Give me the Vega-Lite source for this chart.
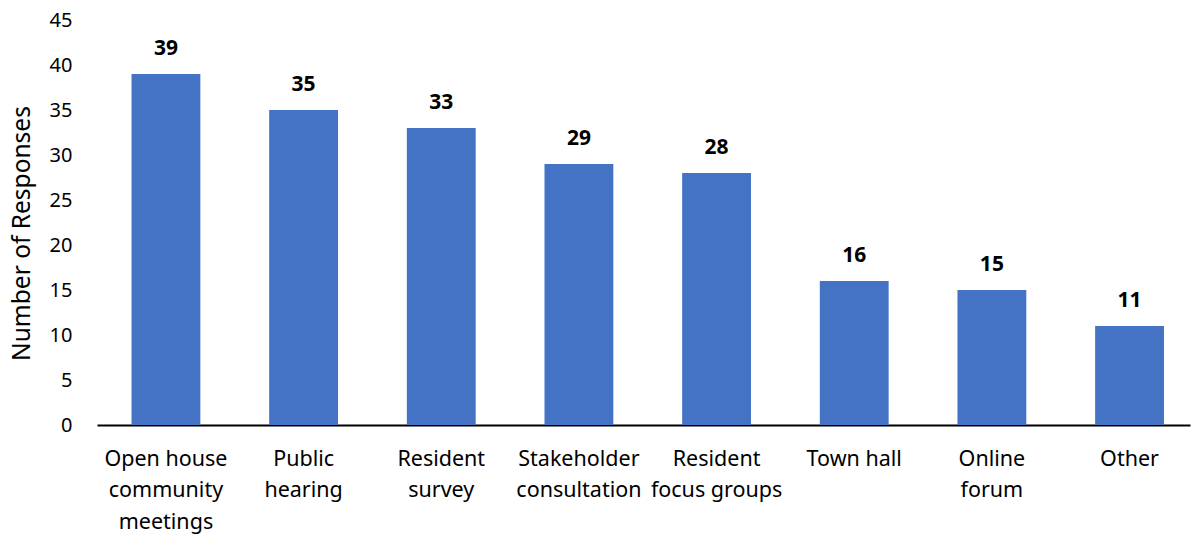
{
  "$schema": "https://vega.github.io/schema/vega-lite/v6.json",
  "width": 1093,
  "height": 405,
  "autosize": "none",
  "padding": {"left": 97, "top": 20, "right": 1, "bottom": 110},
  "background": "white",
  "config": {"view": {"stroke": null}, "font": "Noto Sans"},
  "data": {"values": [
    {"category": "Open house community meetings", "responses": 39},
    {"category": "Public hearing", "responses": 35},
    {"category": "Resident survey", "responses": 33},
    {"category": "Stakeholder consultation", "responses": 29},
    {"category": "Resident focus groups", "responses": 28},
    {"category": "Town hall", "responses": 16},
    {"category": "Online forum", "responses": 15},
    {"category": "Other", "responses": 11}
  ]},
  "encoding": {
    "x": {"field": "category", "type": "nominal", "sort": null,
      "scale": {"paddingInner": 0.5, "paddingOuter": 0.22, "align": 0.57},
      "axis": {"title": null, "labelAngle": 0, "ticks": false, "domainColor": "#000000", "domainWidth": 2,
        "labelFontSize": 21.5, "labelColor": "#000000", "labelPadding": 23, "labelLineHeight": 31.5, "labelBaseline": "top",
        "labelExpr": "datum.value == 'Open house community meetings' ? ['Open house','community','meetings'] : datum.value == 'Public hearing' ? ['Public','hearing'] : datum.value == 'Resident survey' ? ['Resident','survey'] : datum.value == 'Stakeholder consultation' ? ['Stakeholder','consultation'] : datum.value == 'Resident focus groups' ? ['Resident','focus groups'] : datum.value == 'Online forum' ? ['Online','forum'] : datum.value",
        "labelLimit": 200}},
    "y": {"field": "responses", "type": "quantitative",
      "scale": {"domain": [0, 45]},
      "axis": {"title": "Number of Responses", "values": [0,5,10,15,20,25,30,35,40,45], "grid": false, "domain": false, "ticks": false,
        "labelFontSize": 20, "labelColor": "#000000", "labelPadding": 25, "titleFontSize": 24.5, "titleFontWeight": "normal", "titleColor": "#000000", "titlePadding": 15, "titleY": 213}}
  },
  "layer": [
    {"mark": {"type": "bar", "color": "#4472C4"}},
    {"mark": {"type": "text", "dy": -25, "fontSize": 21, "fontWeight": "bold", "color": "#000000"},
     "encoding": {"text": {"field": "responses", "type": "quantitative"}}}
  ]
}
